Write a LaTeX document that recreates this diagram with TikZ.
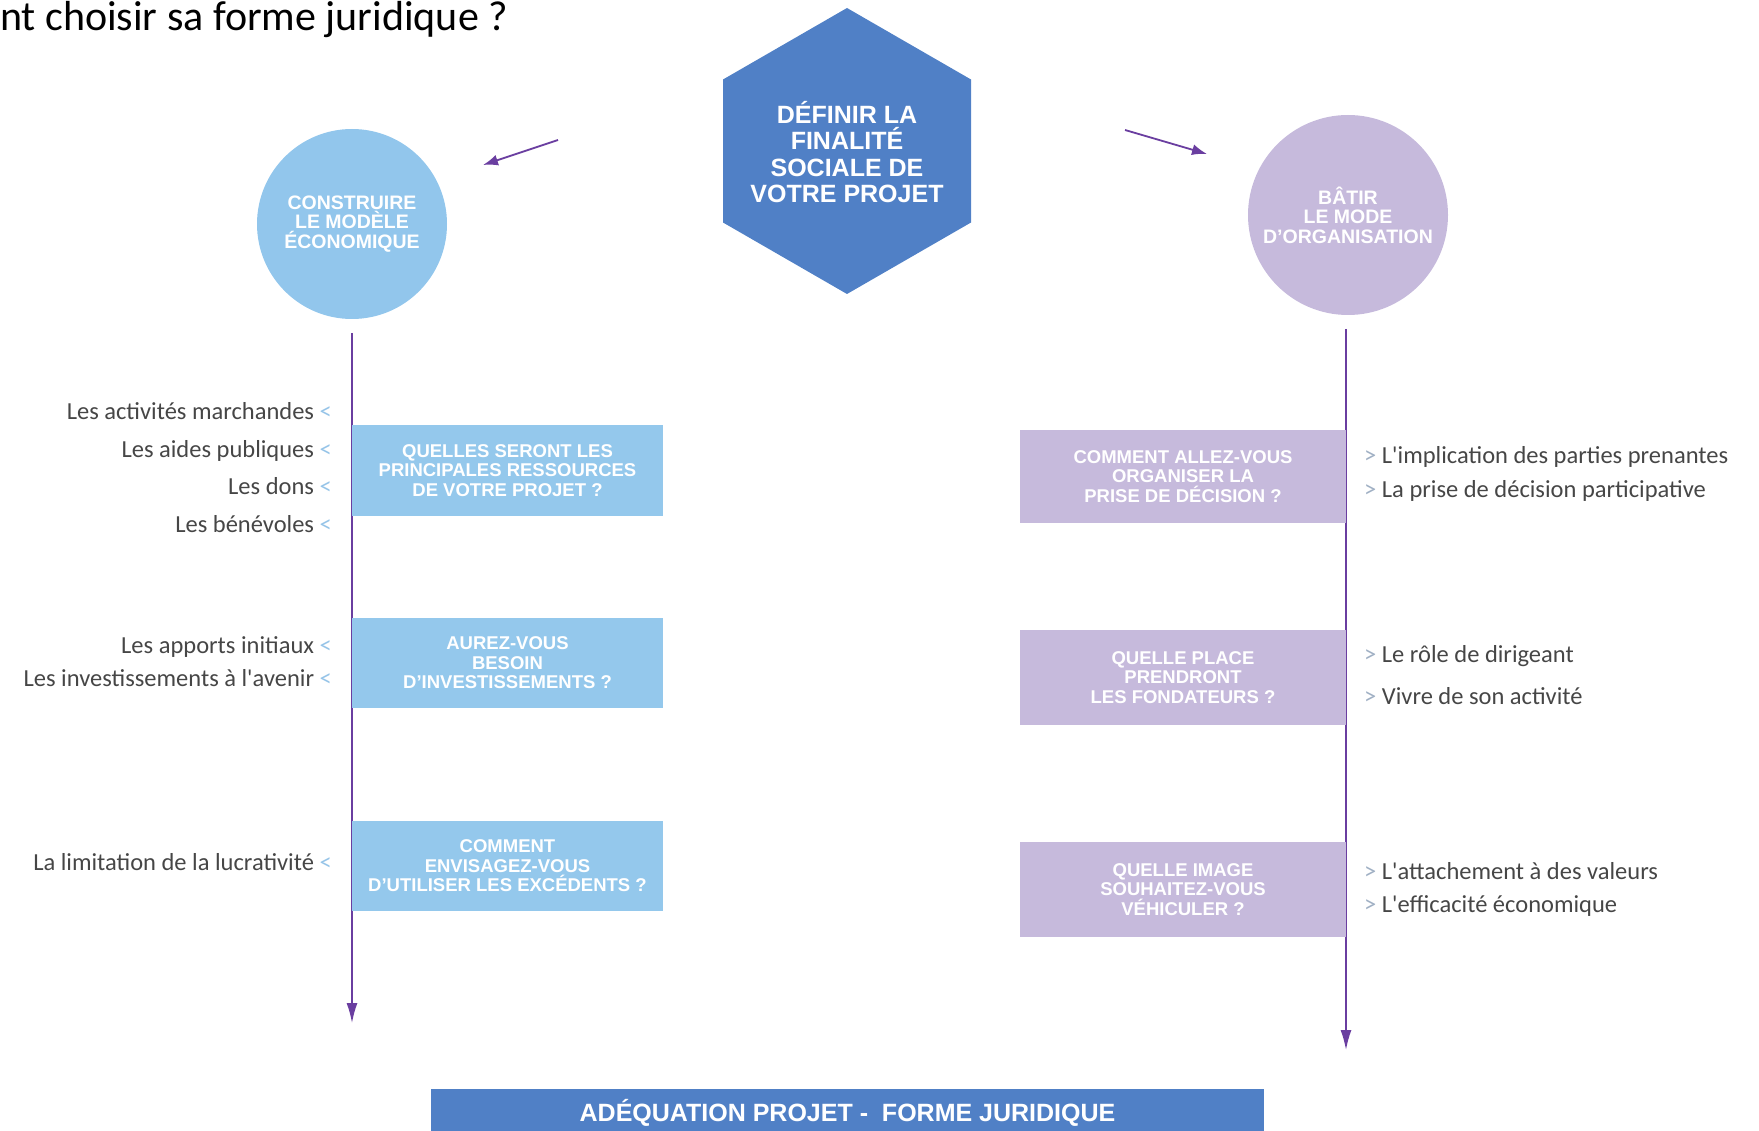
\documentclass[tikz,border=0pt]{standalone}
\usepackage{fontspec}
\setmainfont{Liberation Sans}
\newfontfamily\titlefont{Carlito}
\newfontfamily\handfont{Carlito}
\usetikzlibrary{arrows.meta}
\definecolor{hexblue}{RGB}{80,128,198}
\definecolor{circblue}{RGB}{146,198,236}
\definecolor{boxblue}{RGB}{148,200,236}
\definecolor{lav}{RGB}{198,186,220}
\definecolor{flowpurple}{RGB}{106,62,160}
\definecolor{handgray}{RGB}{70,70,70}
\definecolor{chev}{RGB}{150,196,232}
\definecolor{chevr}{RGB}{160,176,196}
\tikzset{
  flow/.style={draw=flowpurple, line width=1.6pt, -{Latex[length=20pt,width=11pt]}},
  hexarrow/.style={draw=flowpurple, line width=1.8pt, -{Latex[length=15pt,width=11pt]}},
  bigtxt/.style={text=white, align=center, inner sep=0pt, font=\bfseries\fontsize{25}{26.5}\selectfont},
  circtxt/.style={circle, text=white, align=center, inner sep=0pt, font=\bfseries\fontsize{19.5}{19.5}\selectfont},
  qbox/.style={text=white, align=center, inner sep=0pt, font=\bfseries\fontsize{18.5}{19.5}\selectfont},
  hand/.style={text=handgray, inner sep=0pt, font=\handfont\fontsize{24.5}{26}\selectfont},
}
\begin{document}
\begin{tikzpicture}[x=1pt,y=-1pt]
\useasboundingbox (0,0) rectangle (1759,1131);
% title (cut at left edge)
\node[anchor=base west, inner sep=0pt, font=\titlefont\fontsize{42}{44}\selectfont] (title) at (0,31) {nt choisir sa forme juridique ?};
% hexagon
\fill[hexblue] (847,8) -- (971,79.5) -- (971,222.5) -- (847,294) -- (723,222.5) -- (723,79.5) -- cycle;
\node[bigtxt] (hex) at (847,152) {DÉFINIR LA\\FINALITÉ\\SOCIALE DE\\VOTRE PROJET};
% circles
\node[circtxt, fill=circblue, minimum size=190pt] (eco) at (352,224) {CONSTRUIRE\\LE MODÈLE\\ÉCONOMIQUE};
\node[circtxt, fill=lav, minimum size=200pt] (org) at (1348,215) {BÂTIR\\LE MODE\\D'ORGANISATION};
% arrows from hexagon
\coordinate (hl1) at (558,140); \coordinate (hl2) at (483,165);
\coordinate (hr1) at (1125,130); \coordinate (hr2) at (1207,154);
\draw[hexarrow] (hl1) -- (hl2);
\draw[hexarrow] (hr1) -- (hr2);
% vertical flows
\coordinate (ls) at (352,333); \coordinate (le) at (352,1023);
\coordinate (rs) at (1346,329); \coordinate (re) at (1346,1050);
\draw[flow] (ls) -- (le);
\draw[flow] (rs) -- (re);
% left boxes
\node[qbox, fill=boxblue, minimum width=311pt, minimum height=91pt] (q1) at (507.5,470.5) {QUELLES SERONT LES\\PRINCIPALES RESSOURCES\\DE VOTRE PROJET ?};
\node[qbox, fill=boxblue, minimum width=311pt, minimum height=90pt] (q2) at (507.5,663) {AUREZ-VOUS\\BESOIN\\D'INVESTISSEMENTS ?};
\node[qbox, fill=boxblue, minimum width=311pt, minimum height=90pt] (q3) at (507.5,866) {COMMENT\\ENVISAGEZ-VOUS\\D'UTILISER LES EXCÉDENTS ?};
% right boxes
\node[qbox, fill=lav, minimum width=326pt, minimum height=93pt] (p1) at (1183,476.5) {COMMENT ALLEZ-VOUS\\ORGANISER LA\\PRISE DE DÉCISION ?};
\node[qbox, fill=lav, minimum width=326pt, minimum height=95pt] (p2) at (1183,677.5) {QUELLE PLACE\\PRENDRONT\\LES FONDATEURS ?};
\node[qbox, fill=lav, minimum width=326pt, minimum height=95pt] (p3) at (1183,889.5) {QUELLE IMAGE\\SOUHAITEZ-VOUS\\VÉHICULER ?};
% left hand texts
\node[hand, anchor=mid east] (a1) at (332,417) {Les activités marchandes \textcolor{chev}{<}};
\node[hand, anchor=mid east] (a2) at (332,455) {Les aides publiques \textcolor{chev}{<}};
\node[hand, anchor=mid east] (a3) at (332,492) {Les dons \textcolor{chev}{<}};
\node[hand, anchor=mid east] (a4) at (332,530) {Les bénévoles \textcolor{chev}{<}};
\node[hand, anchor=mid east] (b1) at (332,651) {Les apports initiaux \textcolor{chev}{<}};
\node[hand, anchor=mid east] (b2) at (332,684) {Les investissements à l'avenir \textcolor{chev}{<}};
\node[hand, anchor=mid east] (c1) at (332,868) {La limitation de la lucrativité \textcolor{chev}{<}};
% right hand texts
\node[hand, anchor=mid west] (d1) at (1364,461) {\textcolor{chevr}{>} L'implication des parties prenantes};
\node[hand, anchor=mid west] (d2) at (1364,495) {\textcolor{chevr}{>} La prise de décision participative};
\node[hand, anchor=mid west] (e1) at (1364,660) {\textcolor{chevr}{>} Le rôle de dirigeant};
\node[hand, anchor=mid west] (e2) at (1364,702) {\textcolor{chevr}{>} Vivre de son activité};
\node[hand, anchor=mid west] (f1) at (1364,877) {\textcolor{chevr}{>} L'attachement à des valeurs};
\node[hand, anchor=mid west] (f2) at (1364,910) {\textcolor{chevr}{>} L'efficacité économique};
% bottom bar
\fill[hexblue] (431,1089) rectangle (1264,1140);
\node[text=white, inner sep=0pt, font=\bfseries\fontsize{25}{26}\selectfont] (bar) at (847.5,1113) {ADÉQUATION PROJET -\ \ FORME JURIDIQUE};
\end{tikzpicture}
\end{document}
